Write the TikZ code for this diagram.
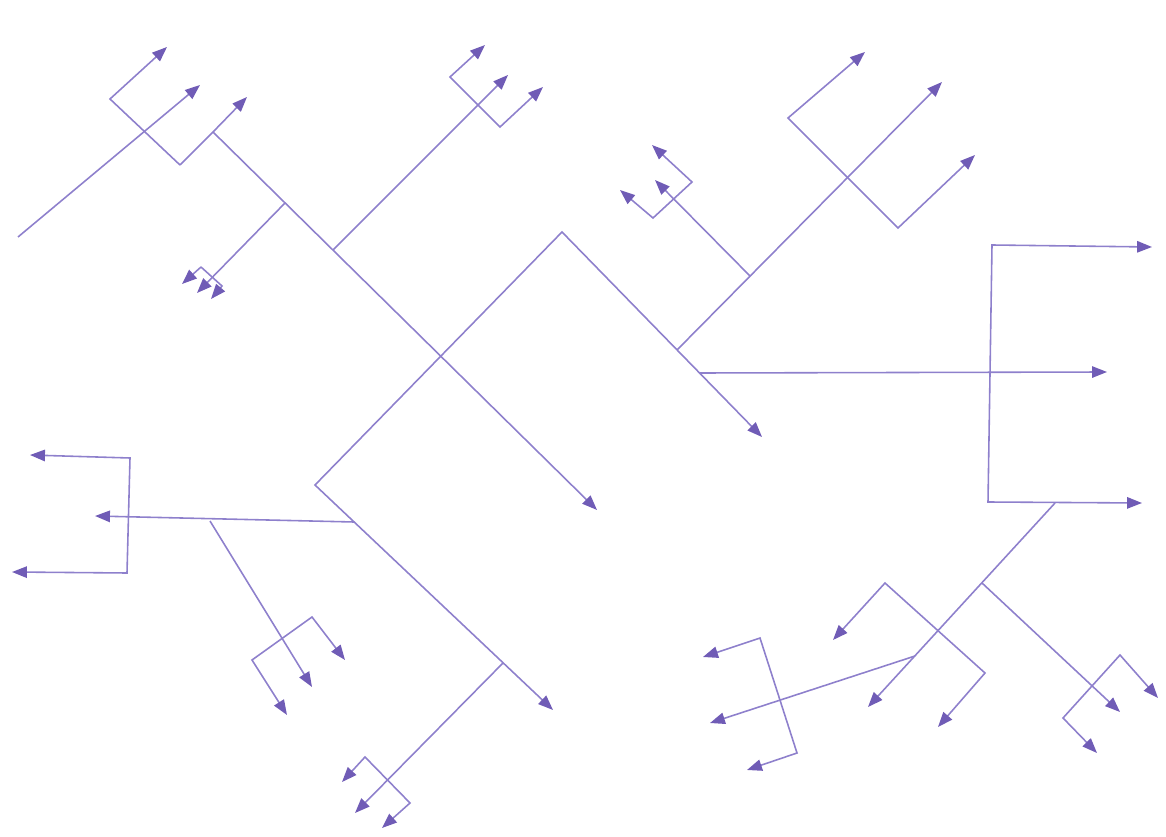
\documentclass[tikz,border=0pt]{standalone}
\usepackage{tikz}
\usepackage{xcolor}
\usetikzlibrary{arrows.meta}

\definecolor{ink}{RGB}{142,128,204}
\definecolor{inkdark}{RGB}{112,92,182}

\begin{document}
\begin{tikzpicture}[x=0.02cm,y=-0.02cm,
    pen/.style={draw=ink,line width=0.9pt,line join=miter},
    tip/.style={-{Triangle[length=8.5pt,width=6.5pt,color=inkdark]}},
    twotip/.style={{Triangle[length=8.5pt,width=6.5pt,color=inkdark]}-{Triangle[length=8.5pt,width=6.5pt,color=inkdark]}}]
            \useasboundingbox (0,0) rectangle (1166,837);

            % centre zigzag
            \coordinate (vl) at (315,485);
            \coordinate (vt) at (562,232);
            \draw[pen,twotip] (553,710) -- (vl) -- (vt) -- (762,437);

            % top left
            \coordinate (ta) at (213,132);
            \draw[pen,tip] (18,237) -- (200,85);
            \draw[pen,tip] (180,165) -- (ta) -- (247,97);
            \draw[pen,tip] (180,165) -- (110,99) -- (167,47);
            \draw[pen,tip] (ta) -- (597,510);
            \draw[pen,tip] (285,203) -- (197,293);
            \draw[pen,tip] (201,267) -- (182,284);
            \draw[pen,tip] (201,267) -- (222,286) -- (211,299);

            % top middle
            \draw[pen,tip] (333,250) -- (508,75);
            \draw[pen,twotip] (485,45) -- (450,77) -- (500,127) -- (543,87);

            % right of the zigzag
            \coordinate (ra) at (677,350);
            \coordinate (rb) at (700,373);
            \draw[pen,tip] (ra) -- (942,82);
            \draw[pen,tip] (750,276) -- (655,180);
            \draw[pen,twotip] (652,145) -- (692,182) -- (653,218) -- (620,190);
            \draw[pen,twotip] (865,52) -- (788,118) -- (898,228) -- (975,155);
            \draw[pen,tip] (rb) -- (1107,372);
            \draw[pen,twotip] (1152,247) -- (992,245) -- (988,502) -- (1142,503);

            % bottom right
            \coordinate (br) at (1055,503);
            \draw[pen,tip] (br) -- (868,707);
            \draw[pen,tip] (982,583) -- (1120,712);
            \draw[pen,tip] (915,656) -- (710,723);
            \draw[pen,twotip] (833,640) -- (885,583) -- (985,673) -- (938,727);
            \draw[pen,twotip] (703,657) -- (760,638) -- (797,753) -- (747,770);
            \draw[pen,twotip] (1158,698) -- (1120,655) -- (1063,718) -- (1097,753);

            % bottom left
            \draw[pen,tip] (354,522) -- (95,516);
            \draw[pen,twotip] (30,455) -- (130,458) -- (127,573) -- (12,572);
            \draw[pen,tip] (210,521) -- (312,687);
            \draw[pen,twotip] (287,715) -- (252,660) -- (312,617) -- (345,660);

            % bottom
            \draw[pen,tip] (503,663) -- (355,813);
            \draw[pen,twotip] (342,782) -- (365,757) -- (410,803) -- (382,828);
        \end{tikzpicture}
\end{document}
